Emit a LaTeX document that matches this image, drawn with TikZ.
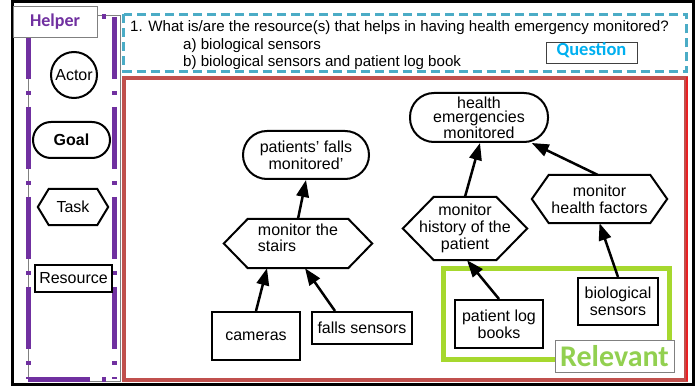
\documentclass[tikz,border=0pt]{standalone}
\usepackage{fontspec}
\setmainfont{Liberation Sans}
\newfontfamily\calibrifont{Carlito}
\usetikzlibrary{arrows.meta}

\definecolor{helperpurple}{RGB}{112,48,160}
\definecolor{questioncyan}{RGB}{75,172,198}
\definecolor{questionblue}{RGB}{0,176,240}
\definecolor{framered}{RGB}{192,80,77}
\definecolor{brightred}{RGB}{235,30,35}
\definecolor{relevantlime}{RGB}{166,216,46}
\definecolor{relevanttext}{RGB}{146,208,80}

\tikzset{
  lbl/.style={font=\fontsize{16}{17}\selectfont, align=center, inner sep=0pt},
  shapeline/.style={draw=black, line width=2pt},
  goalbox/.style={lbl, shapeline, rounded corners=#1},
  resbox/.style={lbl, shapeline},
  taskbox/.style={lbl},
  actorbox/.style={lbl, shapeline, circle},
  dep/.style={line width=2.5pt, -{Triangle[length=17pt,width=12.5pt]}},
  helperline/.style={draw=helperpurple, line width=5pt,
    dash pattern=on 62pt off 12pt on 4pt off 12pt},
  tagbox/.style={fill=white, line width=0.8pt, inner sep=0pt},
  qtext/.style={anchor=base west, inner sep=0pt, font=\fontsize{15.1}{18}\selectfont},
}

% hexagonal outline of a task node: node name, depth of the side points
\newcommand\hexoutline[2]{%
  \draw[shapeline, line join=miter] (#1.west) -- ([xshift=#2]#1.north west)
    -- ([xshift=-#2]#1.north east) -- (#1.east)
    -- ([xshift=-#2]#1.south east) -- ([xshift=#2]#1.south west) -- cycle;}

\begin{document}
\begin{tikzpicture}[x=1pt,y=-1pt]
\useasboundingbox (0,0) rectangle (699,387);
\fill[white] (0,0) rectangle (699,387);

% outer frame
\draw[line width=3pt] (12.5,1.5) rectangle (693,384.5);

% helper panel
\draw[gray, line width=0.8pt] (28,15) rectangle (120.5,381);
\draw[helperline] (114,17) -- (114,379);
\draw[helperline] (28,17) -- (28,379);
\draw[helperline] (28,379) -- (114,379);
\draw[helperline] (28,17) -- (114,17);
\node[tagbox, draw=gray, minimum width=84pt, minimum height=31pt,
  font=\calibrifont\bfseries\fontsize{18}{20}\selectfont, text=helperpurple]
  (helper) at (55,21.5) {Helper};

\node[actorbox, minimum size=46pt] (actor) at (74,75) {Actor};
\node[goalbox=18pt, minimum width=77pt, minimum height=36pt,
  font=\bfseries\fontsize{16}{17}\selectfont] (goal) at (71.5,140) {Goal};
\node[taskbox, minimum width=70pt, minimum height=36pt] (task) at (73,207) {Task};
\hexoutline{task}{11pt}
\node[resbox, minimum width=77pt, minimum height=27pt] (resource) at (73.5,278.5) {Resource};

% question
\draw[questioncyan, line width=3.5pt, dash pattern=on 9pt off 5pt]
  (123.5,14.5) rectangle (686.5,71.5);
\node[qtext] (q) at (130,32)
  {1. What is/are the resource(s) that helps in having health emergency monitored?};
\node[qtext] (qa) at (183,50) {a) biological sensors};
\node[qtext] (qb) at (183,67) {b) biological sensors and patient log book};
\node[tagbox, draw=black!75, minimum width=91pt, minimum height=21pt, text depth=8pt,
  font=\calibrifont\bfseries\fontsize{18.5}{20}\selectfont, text=questionblue]
  (qtag) at (591.5,52.5) {Question};

% model area
\draw[framered, line width=4pt] (124,78.5) rectangle (686,379.5);
\draw[brightred, line width=2pt] (687,77) -- (687,381);

\node[goalbox=24pt, minimum width=126pt, minimum height=48pt] (pf) at (306,155)
  {patients’ falls\\monitored’};
\node[taskbox, minimum width=148pt, minimum height=49pt, align=left, text depth=12pt,
  font=\fontsize{16}{15.5}\selectfont] (ms) at (298,243.5) {monitor the\\stairs};
\hexoutline{ms}{24pt}
\node[resbox, minimum width=88pt, minimum height=48pt] (cam) at (256,336) {cameras};
\node[resbox, minimum width=100pt, minimum height=32pt] (fs) at (362,328) {falls sensors};

\node[goalbox=24pt, minimum width=138pt, minimum height=49pt,
  font=\fontsize{16}{14.5}\selectfont] (he) at (479,117.5) {health\\emergencies\\monitored};
\node[taskbox, minimum width=124pt, minimum height=63pt] (mh) at (465,228.5)
  {monitor\\history of the\\patient};
\hexoutline{mh}{31pt}
\node[taskbox, minimum width=135pt, minimum height=48pt] (mf) at (599.5,199)
  {monitor\\health factors};
\hexoutline{mf}{17pt}
\node[resbox, minimum width=88pt, minimum height=48pt] (plb) at (499,324) {patient log\\books};
\node[resbox, minimum width=80pt, minimum height=47pt] (bs) at (618,301.5) {biological\\sensors};

% relevant group
\draw[relevantlime, line width=5pt] (443.5,268.5) rectangle (669.5,359.5);
\node[tagbox, draw=gray, minimum width=119pt, minimum height=32pt,
  font=\calibrifont\bfseries\fontsize{30}{32}\selectfont, text=relevanttext]
  (relevant) at (614.5,356) {Relevant};

% contributions
\draw[dep] (ms.north) -- (pf.south);
\draw[dep] (cam.north) -- ([xshift=-31pt]ms.south);
\draw[dep] ([xshift=-27pt]fs.north) -- ([xshift=7pt]ms.south);
\draw[dep] (mh.north) -- ([xshift=1pt]he.south);
\draw[dep] ([xshift=-2pt]mf.north) -- (he);
\draw[dep] (plb.north) -- ([xshift=2pt]mh.south);
\draw[dep] (bs.north) -- (mf.south);
\end{tikzpicture}
\end{document}
